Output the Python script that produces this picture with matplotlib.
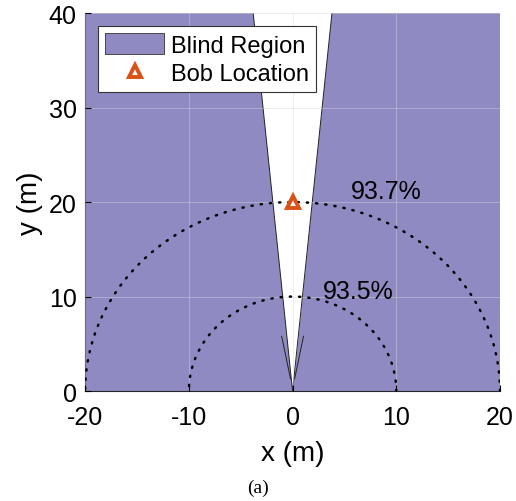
import numpy as np
import matplotlib.pyplot as plt
from matplotlib.patches import Patch
from matplotlib.lines import Line2D

plt.rcParams['font.family'] = ['Liberation Sans', 'DejaVu Sans']
plt.rcParams['axes.unicode_minus'] = False

# blind region: everything outside a narrow wedge from the origin
wedge_top = [-3.8, 3.8]      # wedge x at y = 40
wedge_spur = [[-1.05, -0.2], [1.05, 0.2]]
spur_y = [5.8, 1.3]
radii = [20, 10]
labels = ['93.7%', '93.5%']
label_pos = [(5.6, 21.2), (2.9, 10.6)]
bob = (0, 20)

purple = '#8F8BC2'
orange = '#D95319'

fig = plt.figure(figsize=(5.16, 5.02), dpi=100)
ax = fig.add_axes([0.165, 0.219, 0.804, 0.753])

ax.fill([-20, 0, wedge_top[0], -20], [0, 0, 40, 40], color=purple, lw=0, zorder=1)
ax.fill([0, 20, 20, wedge_top[1]], [0, 0, 40, 40], color=purple, lw=0, zorder=1)
for xt in wedge_top:
    ax.plot([0, xt], [0, 40], color='#222222', lw=0.7, zorder=2)
for xs in wedge_spur:
    ax.plot(xs, spur_y, color='#222222', lw=0.7, zorder=2)

th = np.linspace(0, np.pi, 400)
for r in radii:
    ax.plot(r * np.cos(th), r * np.sin(th), color='black', lw=1.8,
            linestyle=(0, (0.5, 3.2)), dash_capstyle='round', zorder=3)

for t, (x, y) in zip(labels, label_pos):
    ax.text(x, y, t, fontsize=18, ha='left', va='center', zorder=4)

ax.plot(*bob, marker='^', ms=9, mfc='none', mec=orange, mew=2.8, ls='none', zorder=5)

ax.set_xlim(-20, 20)
ax.set_ylim(0, 40)
ax.set_xticks([-20, -10, 0, 10, 20])
ax.set_yticks([0, 10, 20, 30, 40])
ax.tick_params(labelsize=18, direction='in', length=4)
ax.tick_params(axis='x', pad=10)
ax.tick_params(axis='y', pad=6)
ax.grid(True, color='#d8d8d8', lw=0.6, alpha=0.5)
ax.set_axisbelow(False)
for s in ['top', 'right']:
    ax.spines[s].set_visible(False)
ax.spines['left'].set_color('#262626')
ax.spines['bottom'].set_color('#262626')
ax.set_xlabel('x (m)', fontsize=20, labelpad=8)
ax.set_ylabel('y (m)', fontsize=20, labelpad=4)

handles = [Patch(facecolor=purple, edgecolor='#333333', lw=0.6),
           Line2D([], [], marker='^', ms=8, mfc='none', mec=orange, mew=2.8, ls='none')]
leg = ax.legend(handles, ['Blind Region', 'Bob Location'], loc='upper left',
                fontsize=17, fancybox=False, framealpha=1, edgecolor='#333333',
                borderaxespad=0.55, handlelength=2.5, handleheight=1.0,
                handletextpad=0.3, labelspacing=0.2, borderpad=0.3)
leg.get_frame().set_linewidth(0.8)
leg.set_zorder(10)

fig.text(0.5, 0.028, '(a)', fontsize=14, family=['Liberation Serif', 'DejaVu Serif'],
         ha='center', va='center')

fig.savefig('out.png', dpi=100)
